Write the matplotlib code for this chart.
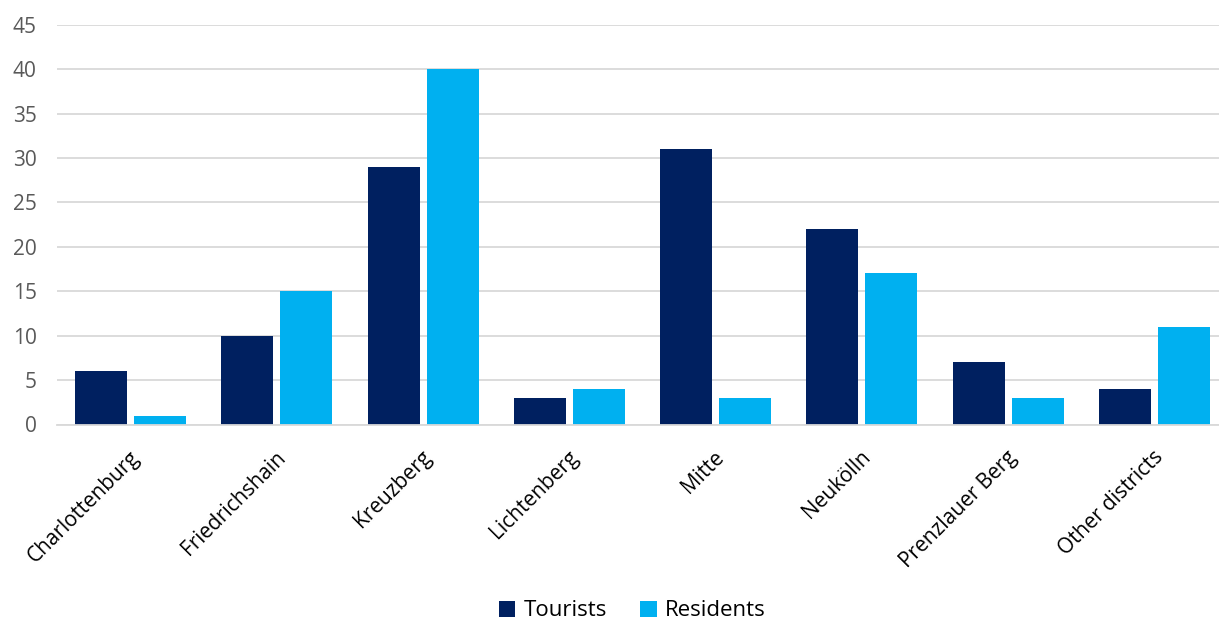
import numpy as np
import matplotlib
matplotlib.use("Agg")
import matplotlib.pyplot as plt
import matplotlib.transforms as mtransforms

plt.rcParams['font.family'] = ['Open Sans', 'DejaVu Sans']

districts = ["Charlottenburg", "Friedrichshain", "Kreuzberg", "Lichtenberg",
             "Mitte", "Neukölln", "Prenzlauer Berg", "Other districts"]
tourists = [6, 10, 29, 3, 31, 22, 7, 4]
residents = [1, 15, 40, 4, 3, 17, 3, 11]
y_ticks = [0, 5, 10, 15, 20, 25, 30, 35, 40, 45]

navy = "#002060"
sky = "#00B0F0"
grid_c = "#D9D9D9"

fig = plt.figure(figsize=(12.19, 6.21), dpi=100)
# axes spans slightly past the right edge, as the plot area does
ax = fig.add_axes([57.4 / 1219, 1 - 424.5 / 621, (1227.6 - 57.4) / 1219, (424.5 - 24.7) / 621])

x = np.arange(len(districts))
w = 0.355
off = 0.2015
ax.bar(x - off, tourists, w, color=navy, label="Tourists", zorder=3)
ax.bar(x + off, residents, w, color=sky, label="Residents", zorder=3)

ax.set_xlim(-0.5, len(districts) - 0.5)
ax.set_ylim(0, 45)
ax.set_yticks(y_ticks)
ax.grid(axis="y", color=grid_c, linewidth=1.3, zorder=0)
for s in ["top", "right", "left"]:
    ax.spines[s].set_visible(False)
ax.spines["bottom"].set_color(grid_c)
ax.spines["bottom"].set_linewidth(1.3)
ax.spines["bottom"].set_zorder(4)

ax.tick_params(axis="y", length=0, pad=15, labelsize=15, labelcolor="#595959")
ax.tick_params(axis="x", length=0, pad=16)
ax.set_xticks(x)
ax.set_xticklabels(districts, rotation=45, ha="right", rotation_mode="anchor",
                   fontsize=15, color="#000000")
shift = mtransforms.ScaledTranslation(-2 / 100, 0, fig.dpi_scale_trans)
for lbl in ax.get_xticklabels():
    lbl.set_transform(lbl.get_transform() + shift)

fig.legend(loc="center", bbox_to_anchor=(632 / 1219, 1 - 611 / 621), ncol=2,
           frameon=False, fontsize=16, handlelength=0.75, handleheight=0.75,
           handletextpad=0.35, columnspacing=1.5)

fig.savefig("out.png", dpi=100)
